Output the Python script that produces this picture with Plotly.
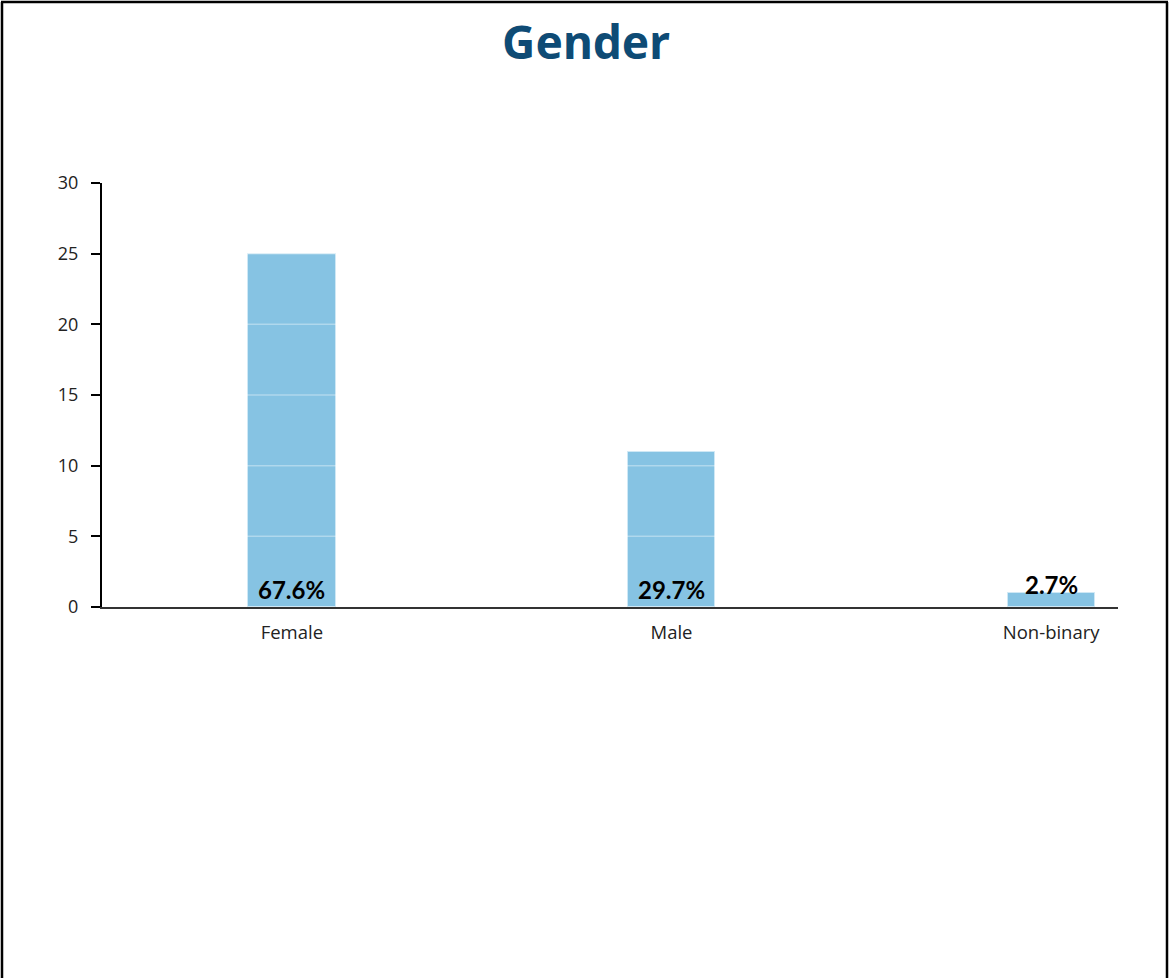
import plotly.graph_objects as go

categories = ["Female", "Male", "Non-binary"]
counts = [25, 11, 1]
pct_labels = ["67.6%", "29.7%", "2.7%"]
y_ticks = [0, 5, 10, 15, 20, 25, 30]

W, H = 1171, 978
x0, x1 = 102, 1118
y_top, y_bot = 183, 607

fig = go.Figure()
fig.add_trace(go.Bar(
    x=categories, y=counts, width=0.23,
    marker=dict(color="#86c3e3", line=dict(color="#cfe8f5", width=1)),
    hoverinfo="x+y",
))

# white gridlines drawn over bars
for t in y_ticks[1:-1]:
    fig.add_shape(type="line", xref="paper", yref="y", x0=0, x1=1, y0=t, y1=t,
                  line=dict(color="rgba(255,255,255,0.35)", width=1.5), layer="above")

# percentage labels
shifts = [0, 0, 5]
for c, p, s in zip(categories, pct_labels, shifts):
    fig.add_annotation(x=c, y=0, text="<b>%s</b>" % p, showarrow=False,
                       yanchor="bottom", yshift=1 + s,
                       font=dict(family="Lato", size=24, color="#000"))

pw = x1 - x0
ph = y_bot - y_top
def px(xp):
    return (xp - x0) / pw
def py(yp):
    return (y_bot - yp) / ph

# page border
fig.add_shape(type="line", xref="paper", yref="paper", layer="above",
              x0=px(2), x1=px(2), y0=py(2), y1=py(H + 20), line=dict(color="#000", width=2.5))
fig.add_shape(type="line", xref="paper", yref="paper", layer="above",
              x0=px(1), x1=px(1168), y0=py(2), y1=py(2), line=dict(color="#000", width=2.5))
fig.add_shape(type="line", xref="paper", yref="paper", layer="above",
              x0=px(1167), x1=px(1167), y0=py(2), y1=py(H + 20), line=dict(color="#000", width=2.5))

fig.update_layout(
    width=W, height=H,
    margin=dict(l=x0, r=W - x1, t=y_top, b=H - y_bot),
    plot_bgcolor="white", paper_bgcolor="white",
    showlegend=False,
    title=dict(text="<b>Gender</b>", x=586 / W, xref="container", xanchor="center",
               y=1 - 43 / H, yref="container", yanchor="middle",
               font=dict(family="Noto Sans", size=46, color="#0e4b75")),
    bargap=0,
    xaxis=dict(range=[-0.5, 2.176], showgrid=False, showline=True,
               linecolor="#333", linewidth=2, ticks="", zeroline=False,
               ticklabelstandoff=8,
               tickfont=dict(family="Open Sans", size=18.5, color="#222"),
               fixedrange=True),
    yaxis=dict(range=[0, 30], tickvals=y_ticks, showgrid=False, zeroline=False,
               showline=True, linecolor="#000", linewidth=2,
               ticks="outside", ticklen=9, tickwidth=2, tickcolor="#000",
               ticklabelstandoff=9,
               tickfont=dict(family="Open Sans", size=18, color="#222"),
               fixedrange=True),
)

fig.write_html("out.html", config={"displayModeBar": False},
               post_script="document.body.style.margin='0';document.body.style.overflow='hidden';")
